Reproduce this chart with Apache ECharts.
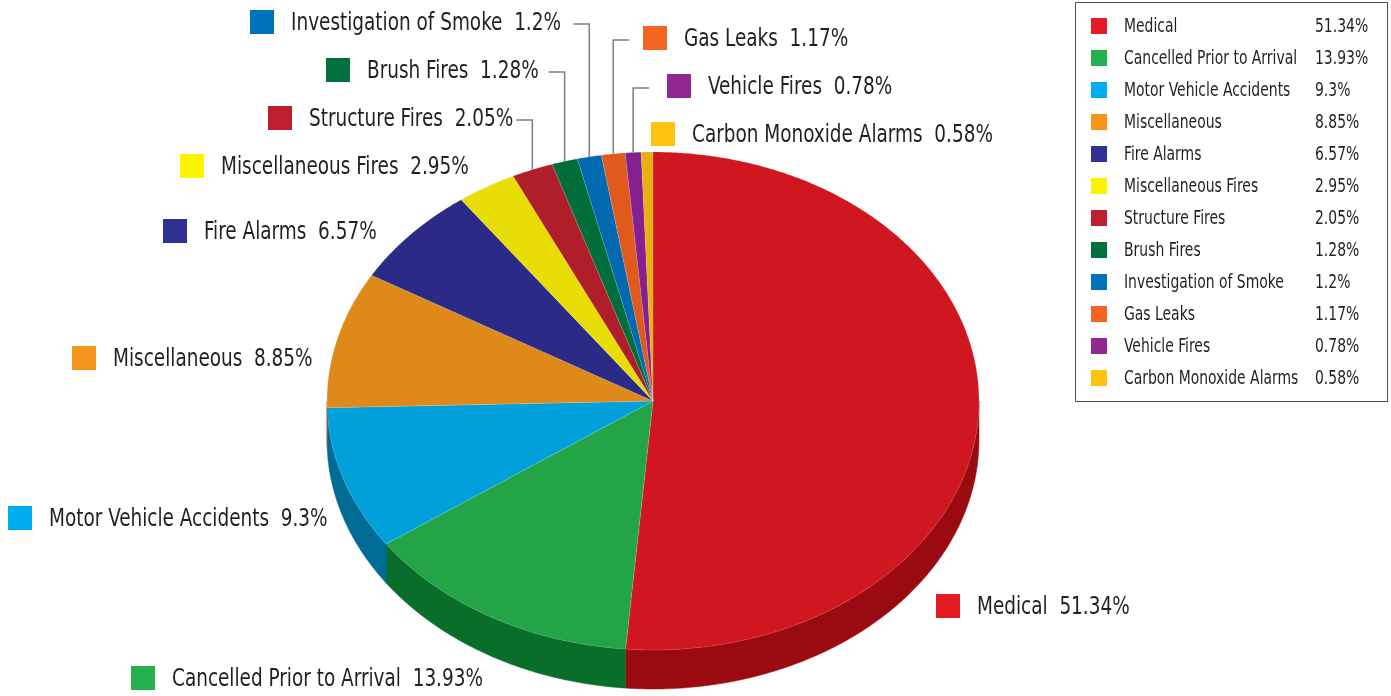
<!DOCTYPE html>
<html>
<head>
<meta charset="utf-8">
<script src="https://cdn.jsdelivr.net/npm/echarts@6/dist/echarts.min.js"></script>
<style>
  html, body { margin: 0; padding: 0; background: #fff; }
  #chart { width: 1391px; height: 696px; }
</style>
</head>
<body>
<div id="chart"></div>
<script>
// categories and values (percent of calls)
var names = ['Medical', 'Cancelled Prior to Arrival', 'Motor Vehicle Accidents', 'Miscellaneous',
  'Fire Alarms', 'Miscellaneous Fires', 'Structure Fires', 'Brush Fires',
  'Investigation of Smoke', 'Gas Leaks', 'Vehicle Fires', 'Carbon Monoxide Alarms'];
var values = [51.34, 13.93, 9.3, 8.85, 6.57, 2.95, 2.05, 1.28, 1.2, 1.17, 0.78, 0.58];

// colours: pie top, pie side, key squares
var faceColors = ['#d0161f', '#22a447', '#00a1db', '#e0891b', '#2b2a86', '#e8de05',
  '#b01e2a', '#006d3a', '#0069b0', '#e05a1e', '#85218e', '#e8b010'];
var sideColors = ['#9c0a11', '#0a6e2b', '#006c95', '#a06010', '#1d1c5e', '#a69f03',
  '#7c141d', '#004c28', '#004a7c', '#9e3f14', '#5d1763', '#a67c0b'];
var keyColors = ['#e31b23', '#22b14c', '#00aeef', '#f7941d', '#2e3192', '#fff200',
  '#be1e2d', '#00703c', '#0072bc', '#f26522', '#92278f', '#ffc20e'];

// outer label layout: [square left, centre y], and whether a leader line is drawn
var labelPos = [[936, 606], [131, 678], [8, 518], [72, 358], [163, 231], [180, 166],
  [268, 118], [326, 70], [250, 22], [643, 38], [667, 86], [651, 134]];
var leaders = [false, false, false, false, false, false, true, true, true, true, true, false];

var FONT = '"Liberation Sans Narrow", "DejaVu Sans Condensed", "Roboto Condensed", "Noto Sans", sans-serif';
var CX = 653, CY = 401, RX = 326, RY = 249, DEPTH = 39;
var KEY = { x: 1075, y: 2, w: 312, h: 399, row0: 26, pitch: 32 };

var total = values.reduce(function (a, b) { return a + b; }, 0);

function pt(t, dy) {
  return [CX + RX * Math.sin(t), CY - RY * Math.cos(t) + (dy || 0)];
}

function arcPoints(a0, a1, dy) {
  var steps = Math.max(2, Math.ceil((a1 - a0) / (Math.PI / 360)));
  var pts = [];
  for (var s = 0; s <= steps; s++) pts.push(pt(a0 + (a1 - a0) * s / steps, dy));
  return pts;
}

// condensed-looking text: squeeze horizontally
function squeezedText(str, x, y, size, sq) {
  return {
    type: 'text',
    x: x, y: y, scaleX: sq,
    style: {
      text: str, x: 0, y: 0,
      fill: '#231f20', fontSize: size, fontFamily: FONT,
      verticalAlign: 'middle', align: 'left'
    }
  };
}

function renderItem(params, api) {
  var i = params.dataIndex;
  var v = api.value(0);
  var before = 0;
  for (var k = 0; k < i; k++) before += values[k];
  var a0 = before / total * 2 * Math.PI;
  var a1 = (before + v) / total * 2 * Math.PI;
  var children = [];

  // visible side wall (front half of the ellipse)
  var s0 = Math.max(a0, Math.PI / 2), s1 = Math.min(a1, 3 * Math.PI / 2);
  if (s1 > s0) {
    var topArc = arcPoints(s0, s1, 0);
    var lowArc = arcPoints(s0, s1, DEPTH).reverse();
    children.push({
      type: 'polygon',
      shape: { points: topArc.concat(lowArc) },
      style: { fill: sideColors[i], stroke: sideColors[i], lineWidth: 0.5 }
    });
  }

  // top face
  children.push({
    type: 'polygon',
    shape: { points: [[CX, CY]].concat(arcPoints(a0, a1, 0)) },
    style: { fill: faceColors[i], stroke: 'rgba(255,255,255,0.25)', lineWidth: 0.5 }
  });

  // outer label
  var lp = labelPos[i];
  children.push({
    type: 'rect',
    shape: { x: lp[0], y: lp[1] - 12, width: 24, height: 24 },
    style: { fill: keyColors[i] }
  });
  children.push(squeezedText(names[i] + '  ' + v + '%', lp[0] + 41, lp[1] + 1, 25, 0.82));

  // leader line from label to slice edge
  if (leaders[i]) {
    var e = pt((a0 + a1) / 2, 0);
    var hx = lp[0] > e[0] ? e[0] + 16 : e[0] - 16;
    children.push({
      type: 'polyline',
      shape: { points: [[hx, lp[1] + 2], [e[0], lp[1] + 2], [e[0], e[1]]] },
      style: { stroke: '#7f7f7f', lineWidth: 1.5, fill: null }
    });
  }

  // key row
  var ry = KEY.row0 + i * KEY.pitch;
  children.push({
    type: 'rect',
    shape: { x: KEY.x + 16, y: ry - 8, width: 16, height: 16 },
    style: { fill: keyColors[i] }
  });
  children.push(squeezedText(names[i], KEY.x + 49, ry + 1, 20, 0.775));
  children.push(squeezedText(v + '%', KEY.x + 240, ry + 1, 20, 0.775));

  return { type: 'group', children: children };
}

var chart = echarts.init(document.getElementById('chart'));
chart.setOption({
  animation: false,
  backgroundColor: '#fff',
  graphic: [{
    type: 'rect',
    shape: { x: KEY.x + 0.5, y: KEY.y + 0.5, width: KEY.w, height: KEY.h },
    style: { fill: '#fff', stroke: '#4d4d4d', lineWidth: 1 },
    z: -10
  }],
  series: [{
    type: 'custom',
    coordinateSystem: 'none',
    renderItem: renderItem,
    silent: true,
    data: values.map(function (v, i) { return { name: names[i], value: v }; })
  }]
});
</script>
</body>
</html>
